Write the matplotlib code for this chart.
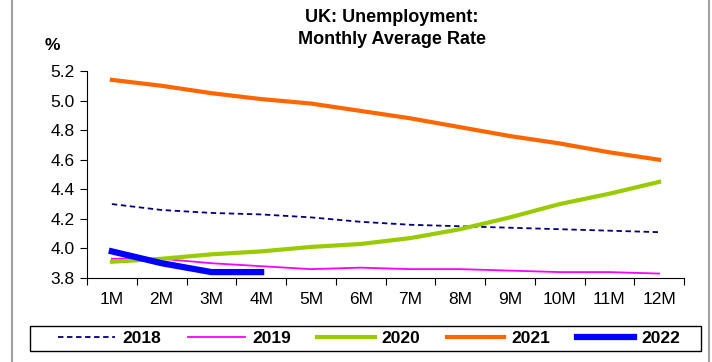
import matplotlib.pyplot as plt
from matplotlib.patches import Rectangle

months = ['1M', '2M', '3M', '4M', '5M', '6M', '7M', '8M', '9M', '10M', '11M', '12M']
y2018 = [4.30, 4.26, 4.24, 4.23, 4.21, 4.18, 4.16, 4.15, 4.14, 4.13, 4.12, 4.11]
y2019 = [3.93, 3.93, 3.90, 3.88, 3.86, 3.87, 3.86, 3.86, 3.85, 3.84, 3.84, 3.83]
y2020 = [3.91, 3.93, 3.96, 3.98, 4.01, 4.03, 4.07, 4.13, 4.21, 4.30, 4.37, 4.45]
y2021 = [5.14, 5.10, 5.05, 5.01, 4.98, 4.93, 4.88, 4.82, 4.76, 4.71, 4.65, 4.60]
y2022 = [3.98, 3.90, 3.84, 3.84]

plt.rcParams['font.family'] = ['Liberation Sans', 'DejaVu Sans']

fig = plt.figure(figsize=(7.12, 3.62), dpi=100)
ax = fig.add_axes([87/712, 1 - 278/362, (684-87)/712, (278-71)/362])

x = list(range(len(months)))
ax.plot(x, y2018, color='#000080', lw=1.3, ls=(0, (3, 2)), label='2018')
ax.plot(x, y2019, color='#ff00ff', lw=1.3, label='2019')
ax.plot(x, y2020, color='#99cc00', lw=3, label='2020')
ax.plot(x[:len(y2022)], y2022, color='#0000ff', lw=4.5, label='2022', zorder=5)
ax.plot(x, y2021, color='#ff6600', lw=3, label='2021')

ax.set_xlim(-0.5, 11.5)
ax.set_ylim(3.8, 5.2)
yt = [3.8, 4.0, 4.2, 4.4, 4.6, 4.8, 5.0, 5.2]
ax.set_yticks(yt)
ax.set_yticklabels(['%.1f' % v for v in yt])
ax.set_xticks([i - 0.5 for i in range(13)])
ax.set_xticklabels([])
ax.set_xticks(x, minor=True)
ax.set_xticklabels(months, minor=True)
ax.tick_params(axis='x', which='minor', length=0, pad=10, labelsize=12.5)
ax.tick_params(axis='x', which='major', length=5, direction='out')
ax.tick_params(axis='y', length=5, direction='out', labelsize=12.5, pad=4)
for s in ['top', 'right']:
    ax.spines[s].set_visible(False)

fig.text(392/712, 1 - 17/362, 'UK: Unemployment:', ha='center', va='center',
         fontsize=13, fontweight='bold')
fig.text(392/712, 1 - 40/362, 'Monthly Average Rate', ha='center', va='center',
         fontsize=13, fontweight='bold')
fig.text(52/712, 1 - 46/362, '%', ha='center', va='center', fontsize=12.5, fontweight='bold')

h, l = ax.get_legend_handles_labels()
order = [0, 1, 2, 4, 3]
leg = fig.legend([h[i] for i in order], [l[i] for i in order], ncol=5, loc='center left',
                 bbox_to_anchor=(58/712, 1 - 351/362, 622/712, 25/362), mode='expand',
                 frameon=False, handlelength=3.3, handletextpad=0.4,
                 borderpad=0, borderaxespad=0,
                 prop={'weight': 'bold', 'size': 12.5})

# legend box and outer chart border
fig.patches.append(Rectangle((30/712, 1 - 351/362), 671/712, 25/362, transform=fig.transFigure,
                             fill=False, edgecolor='black', lw=1))
fig.patches.append(Rectangle((12/712, -0.01), 697/712, 1.02, transform=fig.transFigure,
                             fill=False, edgecolor='#a0a0a0', lw=1.5))

fig.savefig('out.png', dpi=100)
